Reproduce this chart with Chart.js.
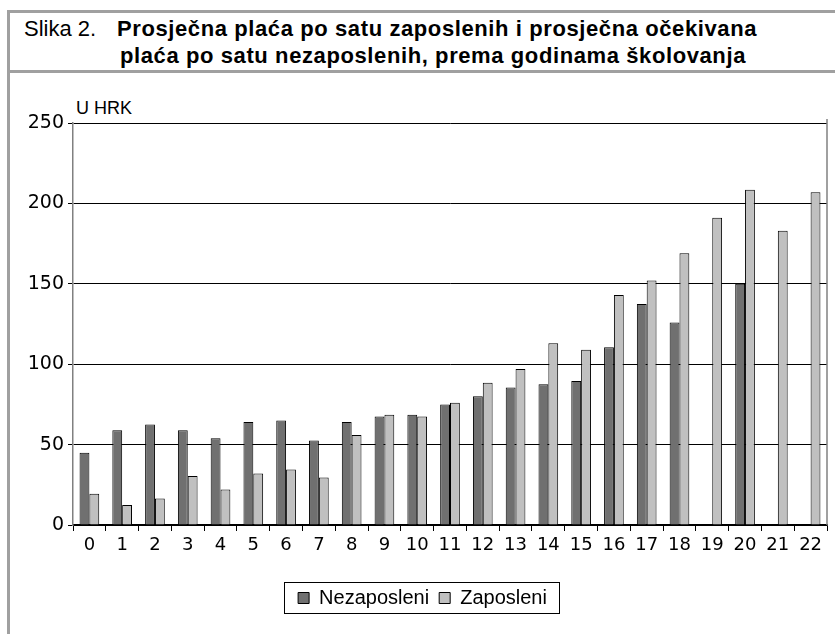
<!DOCTYPE html>
<html>
<head>
<meta charset="utf-8">
<script src="https://cdn.jsdelivr.net/npm/chart.js@4/dist/chart.umd.min.js"></script>
<style>
  body { margin: 0; background: #fff; }
  #wrap { position: relative; width: 835px; height: 634px; overflow: hidden; }
  #frameTop { position: absolute; left: 7px; top: 10px; width: 828px; height: 3px; background: #a0a0a0; }
  #frameMid { position: absolute; left: 7px; top: 70px; width: 828px; height: 3px; background: #a0a0a0; }
  #frameLeft { position: absolute; left: 7px; top: 10px; width: 3px; height: 624px; background: #a0a0a0; }
  .t { position: absolute; font-family: "Liberation Sans", Arial, sans-serif; font-size: 22px; line-height: 22px; color: #000; white-space: nowrap; }
  #t0 { left: 24px; top: 18px; }
  #t1 { left: 117px; top: 18px; font-weight: bold; letter-spacing: 0.6px; }
  #t2 { left: 120px; top: 45px; font-weight: bold; letter-spacing: 0.6px; }
  #unit { position: absolute; left: 76px; top: 98px; font-family: "Liberation Sans", Arial, sans-serif; font-size: 18px; }
  canvas { position: absolute; left: 0; top: 0; }
</style>
</head>
<body>
<div id="wrap">
  <div id="frameTop"></div>
  <div id="frameMid"></div>
  <div id="frameLeft"></div>
  <div class="t" id="t0">Slika 2.</div>
  <div class="t" id="t1">Prosječna plaća po satu zaposlenih i prosječna očekivana</div>
  <div class="t" id="t2">plaća po satu nezaposlenih, prema godinama školovanja</div>
  <div id="unit">U HRK</div>
  <canvas id="chart" width="835" height="634"></canvas>
</div>
<script>
const years = ["0","1","2","3","4","5","6","7","8","9","10","11","12","13","14","15","16","17","18","19","20","21","22"];
const nezaposleni = [45, 59, 62.5, 59, 54, 64, 65, 52.5, 64, 67.5, 68.5, 75, 80, 85.5, 87.5, 89.5, 110.5, 137.5, 126, null, 150, null, null];
const zaposleni = [19.5, 12.5, 16.5, 30.5, 22, 32, 34.5, 29.5, 56, 68.5, 67.5, 76, 88.5, 97, 113, 109, 143, 152, 169, 191, 208.5, 183, 207];
const yTicks = [0, 50, 100, 150, 200, 250];

// draws the right edge of the plot and the box around the legend
const extras = {
  id: "extras",
  afterDraw(chart) {
    const ctx = chart.ctx;
    const a = chart.chartArea;
    ctx.save();
    ctx.strokeStyle = "#808080";
    ctx.lineWidth = 1.5;
    ctx.beginPath();
    ctx.moveTo(a.right, a.top - 4);
    ctx.lineTo(a.right, a.bottom);
    ctx.stroke();
    const boxes = chart.legend.legendHitBoxes;
    if (boxes && boxes.length) {
      const left = Math.min(...boxes.map(b => b.left)) - 14;
      const right = Math.max(...boxes.map(b => b.left + b.width)) + 12;
      const top = boxes[0].top - 6;
      const bottom = boxes[0].top + boxes[0].height + 5;
      ctx.strokeStyle = "#000";
      ctx.lineWidth = 1;
      ctx.strokeRect(Math.round(left) + 0.5, Math.round(top) + 0.5, Math.round(right - left), Math.round(bottom - top));
    }
    ctx.restore();
  }
};

new Chart(document.getElementById("chart"), {
  type: "bar",
  data: {
    labels: years,
    datasets: [
      {
        label: "Nezaposleni",
        data: nezaposleni,
        backgroundColor: "#707070",
        borderColor: "#000",
        borderWidth: 1,
        categoryPercentage: 0.6,
        barPercentage: 1.0,
      },
      {
        label: "Zaposleni",
        data: zaposleni,
        backgroundColor: "#c0c0c0",
        borderColor: "#000",
        borderWidth: 1,
        categoryPercentage: 0.6,
        barPercentage: 1.0,
      },
    ],
  },
  options: {
    responsive: false,
    animation: false,
    layout: { padding: { top: 123, right: 8, left: 18, bottom: 16 } },
    plugins: {
      tooltip: { enabled: false },
      legend: {
        position: "bottom",
        labels: {
          font: { family: "Liberation Sans", size: 20 },
          color: "#000",
          boxWidth: 11,
          boxHeight: 11,
          padding: 10,
        },
      },
    },
    scales: {
      x: {
        grid: { display: true, drawOnChartArea: false, color: "#000", tickLength: 6, offset: true },
        border: { color: "#000", width: 1.5 },
        ticks: { font: { family: "DejaVu Sans", size: 18 }, color: "#000", padding: 4, maxRotation: 0, autoSkip: false },
        afterFit(scale) { scale.height = 53; },
      },
      y: {
        min: 0,
        max: 250,
        afterBuildTicks(scale) { scale.ticks = yTicks.map(v => ({ value: v })); },
        grid: { color: "#000", lineWidth: 1, tickLength: 5 },
        border: { color: "#808080", width: 1.5 },
        ticks: { font: { family: "DejaVu Sans", size: 19 }, color: "#000", padding: 4 },
        afterFit(scale) { scale.width = 55; },
      },
    },
  },
  plugins: [extras],
});
</script>
</body>
</html>
